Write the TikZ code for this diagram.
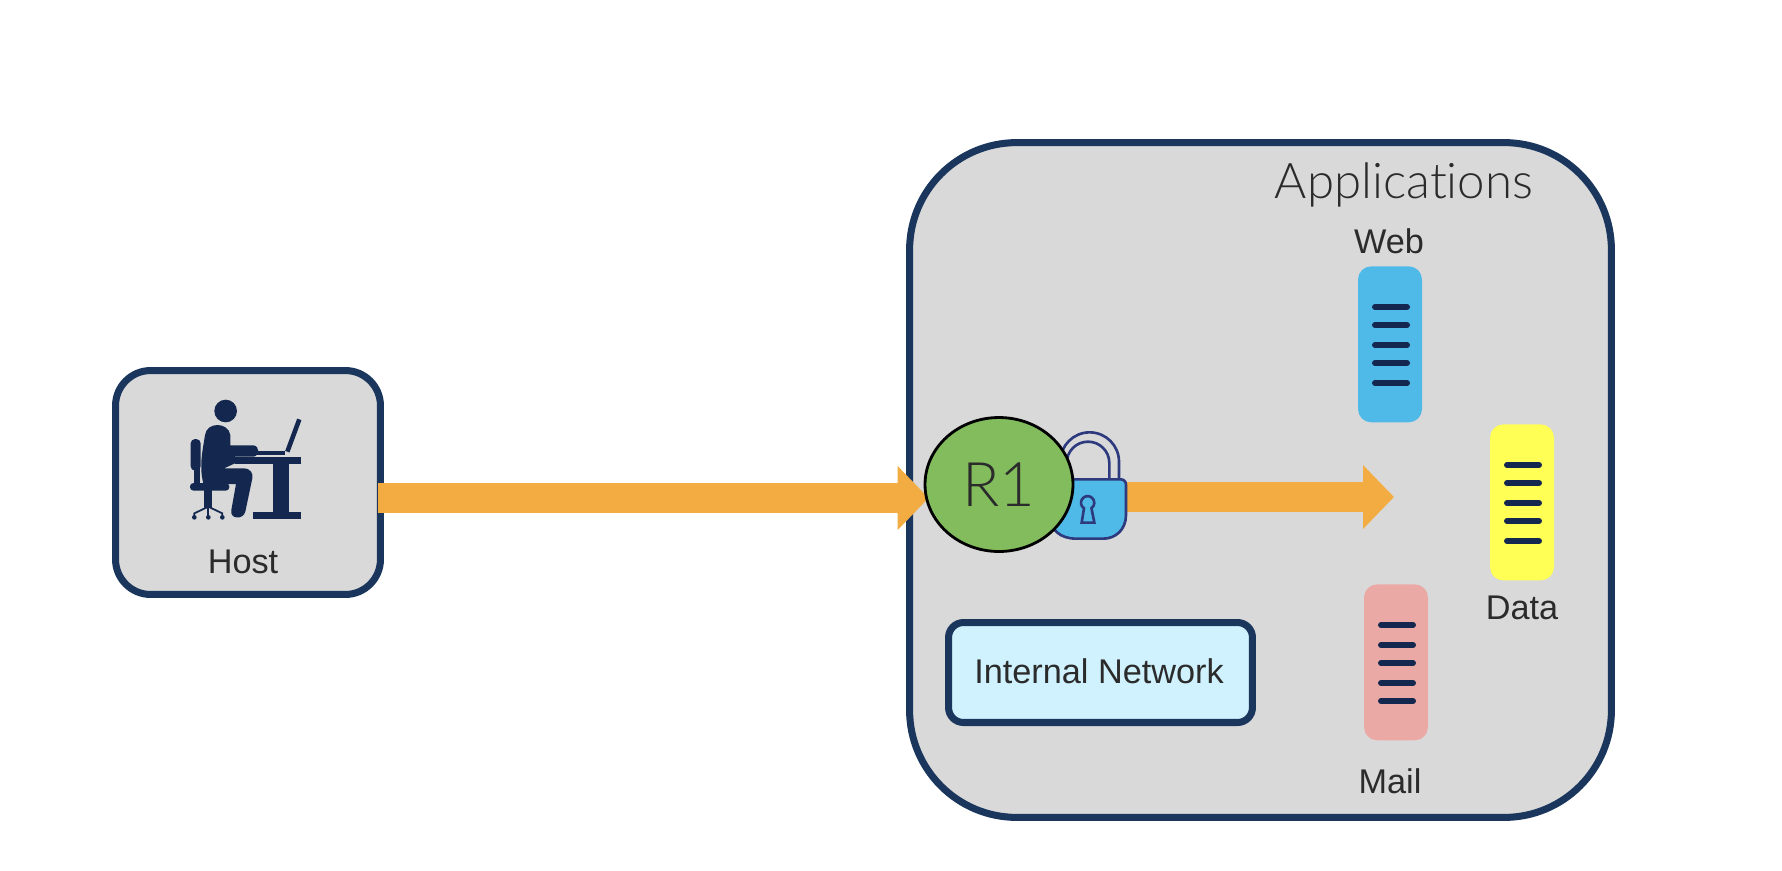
\documentclass[tikz,border=0pt]{standalone}
\usepackage{fontspec}
\usepackage{xcolor}
\usetikzlibrary{arrows.meta}
\usetikzlibrary{shapes.geometric}
\setmainfont{Liberation Sans}
\newfontfamily\lightfont[Ligatures=NoCommon]{Lato Light}
\definecolor{boxnavy}{HTML}{1B365D}
\definecolor{iconnavy}{HTML}{14284F}
\definecolor{boxgray}{HTML}{D9D9D9}
\definecolor{flow}{HTML}{F2AC42}
\definecolor{routergreen}{HTML}{82BC5D}
\definecolor{netcyan}{HTML}{CFF2FE}
\definecolor{webblue}{HTML}{4FB9E8}
\definecolor{datayellow}{HTML}{FFFF55}
\definecolor{mailpink}{HTML}{EBA9A5}
\definecolor{locknavy}{HTML}{2E3A7E}
\definecolor{labeltext}{HTML}{2B2B2B}
\newcommand{\px}{0.569pt}
\pgfdeclarelayer{flowlayer}
\pgfsetlayers{flowlayer,main}

\tikzset{
  zonebox/.style={draw=boxnavy, line width=4pt, fill=boxgray, inner sep=0pt},
  serverbox/.style={rounded corners=7.5pt, inner sep=0pt,
    minimum width=64*\px, minimum height=156*\px},
  serverline/.style={draw=iconnavy, line width=3.4pt, line cap=round},
  flowarrow/.style={draw=flow, line width=17.3pt,
    -{Triangle[length=17.6pt, width=35.3pt]}},
  tag/.style={anchor=base, text=labeltext, inner sep=0pt,
    font=\fontsize{19.5}{22}\selectfont},
  lockline/.style={draw=locknavy, line width=1.5pt}
}

\begin{document}
\begin{tikzpicture}[x=0.02cm, y=-0.02cm]
  \useasboundingbox (0, 0) rectangle (1782, 870);

  % zones are drawn with the traffic, under everything else
  \begin{pgfonlayer}{flowlayer}
    \node[zonebox, rounded corners=61pt, minimum width=702*\px, minimum height=675*\px]
      (apps) at (1260.5, 480) {};
    \node[zonebox, rounded corners=20pt, minimum width=265*\px, minimum height=224*\px]
      (host) at (248, 482.5) {};
  \end{pgfonlayer}
  \node[zonebox, fill=netcyan, rounded corners=8.5pt, minimum width=304*\px, minimum height=100*\px]
    (internal) at (1100.5, 672.5) {};

  \node[tag] (hostlabel) at (243, 573) {Host};
  \node[tag] (internallabel) at (1099, 683) {Internal Network};
  \node[anchor=base, text=labeltext, inner sep=0pt, font=\lightfont\fontsize{28}{32}\selectfont]
    (appslabel) at (1404, 198) {Applications};

  % person at the desk
  \begin{scope}[shift={(100, 360)}, scale=1/3, iconnavy]
    \fill (377, 153) circle (34);
    \fill[rounded corners=2.5pt] (272, 237) rectangle (302, 332);
    \fill (283, 320) rectangle (300, 375);
    \fill[rounded corners=2pt] (270, 369) rectangle (388, 392);
    \fill (313, 385) rectangle (336, 445);
    \fill (405, 291) rectangle (602, 312);
    \fill (520, 305) rectangle (568, 460);
    \fill (459, 455) rectangle (602, 478);
    \fill (465, 273) -- (555, 273) -- (555, 286) -- (465, 286) -- cycle;
    \draw[line width=2.6pt] (562, 275) -- (598, 178);
    \fill (305, 345) .. controls (300, 300) and (310, 260) .. (315, 225)
      .. controls (320, 185) and (385, 185) .. (391, 225)
      -- (391, 256) -- (460, 256)
      .. controls (480, 258) and (480, 288) .. (460, 290)
      -- (405, 290) -- (405, 310) -- (372, 325) -- (430, 325)
      .. controls (452, 325) and (460, 340) .. (457, 355)
      -- (436, 455) .. controls (430, 480) and (388, 478) .. (394, 450)
      -- (408, 372) -- (310, 372) -- cycle;
    \draw[line width=1pt, line cap=round] (325, 440) -- (283, 460) -- (283, 472);
    \draw[line width=1pt, line cap=round] (325, 440) -- (367, 460) -- (367, 472);
    \draw[line width=1pt, line cap=round] (325, 440) -- (325, 472);
    \foreach \i in {283, 325, 367} {
      \fill (\i, 472) circle (7);
    }
  \end{scope}

  % lock
  \begin{scope}[shift={(900, 400)}, scale=1/3]
    \draw[lockline] (657, 240) -- (657, 185) arc (0:-180:88) -- (481, 240);
    \draw[lockline] (628, 240) -- (628, 189) arc (0:-180:64) -- (500, 240);
    \draw[lockline, fill=webblue] (480, 238) -- (662, 238)
      .. controls (672, 238) and (678, 245) .. (678, 255) -- (678, 345)
      .. controls (678, 390) and (645, 416) .. (610, 416) -- (530, 416)
      .. controls (480, 416) and (450, 390) .. (450, 345) -- (450, 238) -- cycle;
    \draw[lockline] (552, 325) arc (123:415:20) -- (583, 368) -- (545, 368) -- cycle;
  \end{scope}
  \node[inner sep=0pt, minimum width=74*\px, minimum height=60*\px] (lock) at (1090, 509) {};
  \coordinate (flowend) at (1394, 497);

  \node[ellipse, draw=black, line width=1.6pt, fill=routergreen, inner sep=0pt,
    minimum width=148*\px, minimum height=134*\px, text=labeltext,
    font=\lightfont\fontsize{35}{40}\selectfont] (r1) at (999, 484.5) {R1};

  % traffic
  \begin{pgfonlayer}{flowlayer}
    \draw[flowarrow] ([shift={(-6, 15.5)}]host.east) -- ([shift={(5, 13.5)}]r1.west);
    \draw[flowarrow] (lock.east |- flowend) -- (flowend);
  \end{pgfonlayer}

  % servers
  \foreach \name/\cx/\ty/\col/\rows in {web/1390/266/webblue/{41,59,79,97,117},
      data/1522/424/datayellow/{41,59,79,97,117},
      mail/1396/584/mailpink/{41,61,79,99,117}} {
    \node[serverbox, fill=\col, anchor=north] (\name) at (\cx, \ty) {};
    \foreach \i in \rows {
      \draw[serverline] ([shift={(-15, \i)}]\name.north) -- +(32, 0);
    }
  }
  \node[tag] (weblabel) at (1389, 253) {Web};
  \node[tag] (datalabel) at (1522, 619) {Data};
  \node[tag] (maillabel) at (1390, 793) {Mail};
\end{tikzpicture}
\end{document}
